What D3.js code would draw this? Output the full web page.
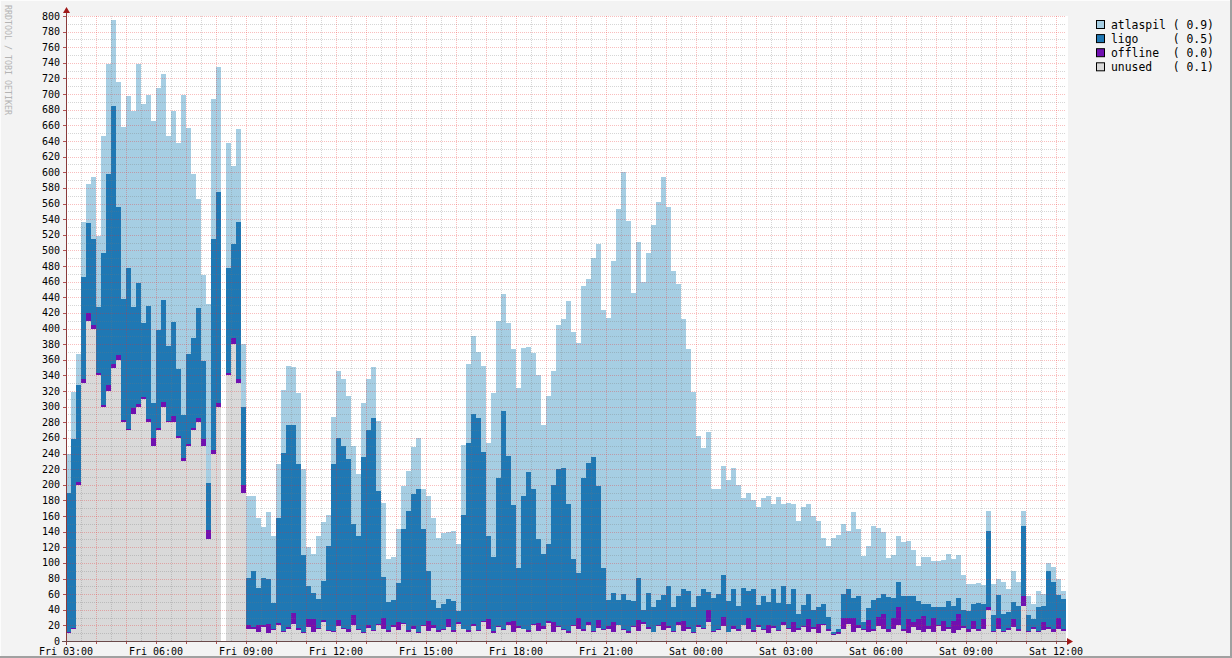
<!DOCTYPE html>
<html><head><meta charset="utf-8">
<script src="https://cdn.jsdelivr.net/npm/d3@7"></script>
<style>
html,body{margin:0;padding:0;background:#f3f3f3;}
svg{display:block;}
text{font-family:"DejaVu Sans Mono",monospace;}
</style></head><body>
<svg id="c" width="1232" height="658"></svg>
<script>
// ---- data (10-minute samples starting Fri 03:00) ----
const seriesKeys = ["unused", "offline", "ligo", "atlaspil"];
const legendLabels = ["atlaspil ( 0.9)", "ligo     ( 0.5)", "offline  ( 0.0)", "unused   ( 0.1)"];
const legendKeys = ["atlaspil", "ligo", "offline", "unused"];
const yTickLabels = [0,20,40,60,80,100,120,140,160,180,200,220,240,260,280,300,320,340,360,380,400,420,440,460,480,500,520,540,560,580,600,620,640,660,680,700,720,740,760,780,800];
const xTickLabels = ["Fri 03:00","Fri 06:00","Fri 09:00","Fri 12:00","Fri 15:00","Fri 18:00","Fri 21:00","Sat 00:00","Sat 03:00","Sat 06:00","Sat 09:00","Sat 12:00"];

const unused = [
 10,15,200,330,410,400,340,300,320,350,
 360,280,270,290,300,310,280,250,270,300,
 280,280,260,230,250,270,280,250,130,240,
 300,null,340,380,330,190,15,15,12,18,
 10,14,20,12,16,22,14,10,18,12,
 15,24,13,11,19,16,12,21,14,10,
 17,13,20,15,11,18,14,22,12,16,
 10,19,13,17,12,14,18,11,22,15,
 12,19,13,24,16,10,18,14,21,12,
 17,15,11,20,13,16,23,12,18,14,
 10,19,15,13,21,12,17,14,16,12,
 20,14,10,18,13,22,15,11,19,14,
 17,12,21,13,16,10,18,15,24,12,
 14,19,11,16,13,20,15,12,18,14,
 10,17,13,21,15,12,14,18,12,16,
 10,20,13,8,9,15,22,12,17,14,
 11,13,19,15,12,16,21,13,10,18,
 14,12,16,11,19,13,15,10,14,17,
 12,15,13,16,40,12,15,11,14,18,
 13,45,12,15,11,14,16,12,15,13
];
const offline = [
 1,2,3,6,10,4,3,2,8,5,
 6,3,2,8,3,2,4,10,3,6,
 2,8,3,4,2,3,6,8,12,4,
 5,null,3,8,6,10,6,3,8,2,
 12,2,3,1,2,14,3,2,10,16,
 2,3,1,2,8,1,3,12,2,1,
 3,1,2,14,3,2,10,1,2,3,
 1,2,12,3,2,1,10,3,2,1,
 2,3,1,2,12,3,1,2,3,14,
 2,1,3,2,10,3,2,12,1,2,
 3,1,14,2,3,1,10,2,3,12,
 1,2,3,1,14,2,3,1,2,10,
 2,1,3,12,2,1,3,2,16,1,
 2,12,1,3,2,1,14,2,3,1,
 10,2,1,3,2,12,3,1,16,2,
 12,2,3,1,2,14,8,18,3,2,
 16,3,12,20,4,14,22,3,18,6,
 14,20,3,18,2,12,3,16,20,2,
 3,10,2,12,3,1,14,2,3,10,
 2,12,1,3,2,10,2,3,14,2
];
const ligo = [
 178,242,125,130,115,110,85,195,270,330,
 190,155,205,130,155,95,145,45,125,130,
 95,120,85,55,115,115,140,100,60,270,
 270,null,135,120,200,100,60,72,48,61,
 58,33,134,228,259,240,210,98,42,34,
 37,50,107,214,233,233,218,117,118,224,
 250,272,170,53,36,32,50,120,153,169,
 184,123,65,32,28,33,26,37,15,145,
 240,269,271,216,106,94,190,278,213,148,
 75,169,202,172,107,93,99,176,201,206,
 162,85,58,194,204,222,171,78,34,37,
 32,44,39,32,54,16,44,31,31,35,
 51,30,33,42,46,33,36,50,23,42,
 44,53,39,48,30,47,35,52,25,43,
 30,47,35,46,30,42,17,27,32,22,
 21,25,15,3,5,31,36,25,38,8,
 15,36,24,25,40,25,32,41,30,33,
 23,16,28,14,22,19,33,19,21,21,
 23,23,34,19,98,20,30,22,20,22,
 30,90,20,10,31,21,72,60,30,39
];
const atlaspil = [
 50,60,40,70,50,80,90,150,140,110,
 160,220,220,250,280,280,270,360,310,290,
 270,270,290,410,290,210,140,110,230,180,
 160,null,160,100,120,80,105,95,90,65,
 85,85,70,80,75,75,90,110,50,50,
 80,75,40,60,85,85,80,100,80,70,
 65,65,90,95,55,55,70,55,50,60,
 65,50,95,105,90,90,85,90,85,90,
 100,100,85,110,120,210,200,150,170,200,
 230,190,160,175,210,165,190,145,185,190,
 260,290,295,245,235,255,310,330,360,425,
 500,540,485,395,430,420,435,490,510,535,
 485,430,400,345,310,275,205,180,205,140,
 135,140,155,155,155,115,125,115,125,125,
 135,110,135,105,130,110,120,125,115,120,
 110,85,90,120,120,90,75,110,85,85,
 80,95,90,80,50,55,60,70,70,60,
 45,60,60,60,60,60,60,60,55,45,
 35,25,25,25,25,40,20,40,30,40,
 30,20,25,20,20,15,10,20,20,10
];
const colors = {atlaspil:"#a6cee3", ligo:"#1f78b4", offline:"#7010b0", unused:"#d9d9d9"};

// ---- setup ----
const svg = d3.select("#c");
const t0 = new Date(2010, 0, 1, 3, 0);      // a Friday
const step = 10 * 60 * 1000;
const n = unused.length;
const tEnd = new Date(t0.getTime() + n * step);
const x = d3.scaleTime().domain([t0, tEnd]).range([66, 1066]);
const y = d3.scaleLinear().domain([0, 800]).range([641, 16]);

// frame
svg.append("rect").attr("x",0).attr("y",0).attr("width",1232).attr("height",658).attr("fill","#f3f3f3");
svg.append("line").attr("x1",0).attr("y1",0.5).attr("x2",1232).attr("y2",0.5).attr("stroke","#fcfcfc");
svg.append("line").attr("x1",0.5).attr("y1",0).attr("x2",0.5).attr("y2",658).attr("stroke","#fcfcfc");
svg.append("line").attr("x1",1231).attr("y1",0).attr("x2",1231).attr("y2",658).attr("stroke","#a0a0a0").attr("stroke-width",2);
svg.append("line").attr("x1",0).attr("y1",657).attr("x2",1232).attr("y2",657).attr("stroke","#a0a0a0").attr("stroke-width",2);

// plot background
svg.append("rect").attr("x",66).attr("y",16).attr("width",1002).attr("height",625).attr("fill","#ffffff");

// stacked data
const rows = d3.range(n).map(i => ({
  t: new Date(t0.getTime() + i * step),
  t1: new Date(t0.getTime() + (i + 1) * step),
  ok: unused[i] != null,
  unused: unused[i] || 0, offline: offline[i] || 0, ligo: ligo[i] || 0, atlaspil: atlaspil[i] || 0
}));
const stacked = d3.stack().keys(seriesKeys)(rows);
const gData = svg.append("g").attr("shape-rendering","crispEdges");
stacked.forEach(layer => {
  gData.append("g").attr("fill", colors[layer.key])
    .selectAll("rect").data(layer.filter(d => d.data.ok)).join("rect")
    .attr("x", d => x(d.data.t))
    .attr("width", d => x(d.data.t1) - x(d.data.t))
    .attr("y", d => y(d[1]))
    .attr("height", d => Math.max(0, y(d[0]) - y(d[1])));
});

// grid (drawn over the data)
const gGrid = svg.append("g").attr("shape-rendering","crispEdges").attr("stroke-dasharray","1,1");
const minorY = d3.range(10, 800, 20);
const minorCol = "rgba(120,120,120,0.3)", majorCol = "rgba(235,40,40,0.3)";
gGrid.selectAll("line.hmin").data(minorY).join("line").attr("class","hmin")
  .attr("x1",66).attr("x2",1066).attr("y1",d=>Math.round(y(d))+0.5).attr("y2",d=>Math.round(y(d))+0.5)
  .attr("stroke",minorCol);
const halfHours = d3.range(1, 67).map(k => new Date(t0.getTime() + k * 30 * 60000));
gGrid.selectAll("line.vmin").data(halfHours.filter((d,k)=> k % 2 === 0)).join("line").attr("class","vmin")
  .attr("x1",d=>Math.round(x(d))+0.5).attr("x2",d=>Math.round(x(d))+0.5).attr("y1",16).attr("y2",641)
  .attr("stroke",minorCol);
gGrid.selectAll("line.hmaj").data(yTickLabels.filter(v=>v>0)).join("line").attr("class","hmaj")
  .attr("x1",66).attr("x2",1066).attr("y1",d=>Math.round(y(d))+0.5).attr("y2",d=>Math.round(y(d))+0.5)
  .attr("stroke",majorCol);
gGrid.selectAll("line.vmaj").data(halfHours.filter((d,k)=> k % 2 === 1)).join("line").attr("class","vmaj")
  .attr("x1",d=>Math.round(x(d))+0.5).attr("x2",d=>Math.round(x(d))+0.5).attr("y1",16).attr("y2",641)
  .attr("stroke",majorCol);

// ticks on axes
const gT = svg.append("g").attr("shape-rendering","crispEdges");
gT.selectAll("line.yt").data(yTickLabels).join("line")
  .attr("x1",63).attr("x2",66).attr("y1",d=>Math.round(y(d))+0.5).attr("y2",d=>Math.round(y(d))+0.5)
  .attr("stroke","#b05050");
gT.selectAll("line.xt").data(halfHours.filter((d,k)=> k % 2 === 1).concat([t0])).join("line")
  .attr("x1",d=>Math.round(x(d))+0.5).attr("x2",d=>Math.round(x(d))+0.5).attr("y1",641).attr("y2",644)
  .attr("stroke","#b05050");

// axes lines and arrows
svg.append("line").attr("x1",66.5).attr("x2",66.5).attr("y1",645).attr("y2",12).attr("stroke","#8a3a3a").attr("shape-rendering","crispEdges");
svg.append("line").attr("x1",62).attr("x2",1068).attr("y1",641.5).attr("y2",641.5).attr("stroke","#6a4a4a").attr("shape-rendering","crispEdges");
svg.append("path").attr("d","M63,13 L70,13 L66.5,7 Z").attr("fill","#a01818");
svg.append("path").attr("d","M1067,638 L1067,645 L1073,641.5 Z").attr("fill","#a01818");

// y labels
svg.append("g").selectAll("text").data(yTickLabels).join("text")
  .attr("x",60).attr("y",d=>y(d)).attr("dy","0.35em").attr("text-anchor","end")
  .attr("font-size","10px").attr("fill","#000").text(d=>d);

// x labels
svg.append("g").selectAll("text").data(xTickLabels).join("text")
  .attr("x",(d,k)=>x(new Date(t0.getTime() + k * 3 * 3600000))).attr("y",655)
  .attr("text-anchor","middle").attr("font-size","10px").attr("fill","#000").text(d=>d);

// legend
const gL = svg.append("g");
legendKeys.forEach((k, j) => {
  gL.append("rect").attr("x",1096.5).attr("y",20.5 + j*14.1).attr("width",8).attr("height",8)
    .attr("fill",colors[k]).attr("stroke","#000").attr("stroke-width",1);
  gL.append("text").attr("x",1111).attr("y",28.5 + j*14.1).attr("font-size","11.4px")
    .attr("xml:space","preserve").style("white-space","pre").attr("fill","#000").text(legendLabels[j]);
});

// watermark
svg.append("text").attr("transform","translate(5,5) rotate(90)")
  .attr("font-size","8.3px").attr("fill","#b4b4b4").text("RRDTOOL / TOBI OETIKER");
</script>
</body></html>
